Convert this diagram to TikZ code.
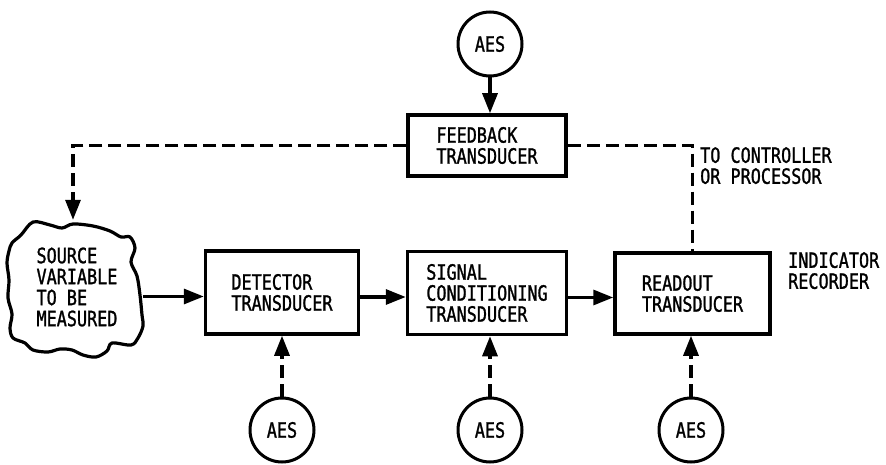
\documentclass[tikz,border=0pt]{standalone}
\usepackage{fontspec}
\newfontfamily\lbl{DejaVu Sans Mono}[FakeStretch=0.8,FakeBold=1.2]
\usetikzlibrary{arrows.meta}
\begin{document}
\begin{tikzpicture}[x=1pt,y=-1pt,
  txt/.style={font=\lbl\fontsize{21}{21}\selectfont, align=left},
  blk/.style={txt, draw, line width=3.5pt, inner sep=0pt},
  aes/.style={txt, draw, circle, line width=3pt, minimum size=64pt, inner sep=0pt},
  arr/.style={line width=3.2pt, -{Triangle[length=20pt,width=15pt]}},
  dsh/.style={line width=3.2pt, dash pattern=on 13pt off 6pt},
  darr/.style={dsh, -{Triangle[length=20pt,width=15pt]}}]
\useasboundingbox (0,0) rectangle (886,465);

% cloud outline
\draw[line width=3.2pt, line join=round] plot[smooth cycle, tension=0.55] coordinates {
 (12,243) (21,235) (33,222) (50,225) (62,228) (73,224) (93,226) (110,231)
 (121,237) (130,237) (135,248) (131,262) (137,276) (140,295) (142,315)
 (143,326) (138,338) (131,345) (112,343) (107,351) (96,357) (83,355)
 (72,350) (60,349) (48,352) (33,350) (25,343) (13,338) (10,328) (12,314)
 (8,298) (9,280) (7,263) (9,251)};

\node[txt, minimum width=132pt, minimum height=134pt, inner sep=0pt] (src) at (77,287)
  {SOURCE\\VARIABLE\\TO BE\\MEASURED};

\node[blk, minimum width=153pt, minimum height=83pt] (det) at (282,292.5) {DETECTOR\\TRANSDUCER};
\node[blk, minimum width=159pt, minimum height=83pt] (sig) at (487,293) {SIGNAL\\CONDITIONING\\TRANSDUCER};
\node[blk, minimum width=155pt, minimum height=81pt] (ro) at (692.5,293.5) {READOUT\\TRANSDUCER};
\node[blk, minimum width=158pt, minimum height=61pt] (fb) at (487,145.5) {FEEDBACK\\TRANSDUCER};

\node[aes] (a0) at (490,44) {AES};
\node[aes] (a1) at (282,430) {AES};
\node[aes] (a2) at (490,430) {AES};
\node[aes] (a3) at (691,430) {AES};

\node[txt, anchor=north west, inner sep=0pt] (tc) at (700,147) {TO CONTROLLER\\OR PROCESSOR};
\node[txt, anchor=north west, inner sep=0pt] (ir) at (788,252) {INDICATOR\\RECORDER};

% connectors
\coordinate (m1) at ([yshift=-4pt]det.west);
\coordinate (m2) at ([yshift=-4pt]sig.west);
\coordinate (m3) at ([yshift=-4pt]ro.west);
\draw[arr] (src.east |- m1) -- (m1);
\draw[arr] (det.east |- m2) -- (m2);
\draw[arr] (sig.east |- m3) -- (m3);
\draw[arr] (a0.south) -- (a0.south |- fb.north);
\draw[darr] (a1.north) -- (a1.north |- det.south);
\draw[darr] (a2.north) -- (a2.north |- sig.south);
\draw[darr] (a3.north) -- (a3.north |- ro.south);
\draw[darr] (fb.west) -| ([xshift=-4pt]src.north);
\draw[dsh] (fb.east) -| (ro.north);
\end{tikzpicture}
\end{document}
